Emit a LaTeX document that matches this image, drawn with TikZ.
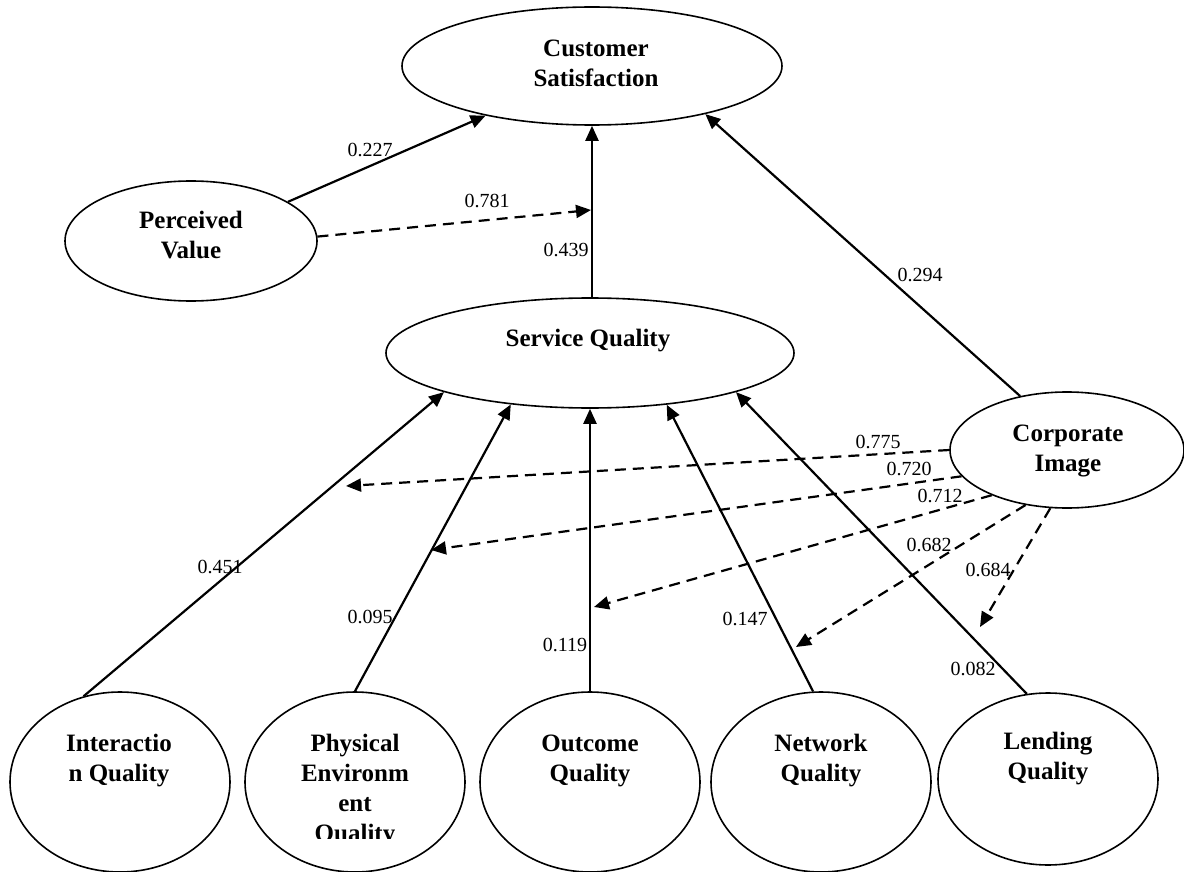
\documentclass[tikz,border=0pt]{standalone}
\usepackage{fontspec}
\setmainfont{Liberation Serif}
\usetikzlibrary{shapes.geometric,arrows.meta}
\tikzset{
  ell/.style={draw, line width=1.6pt, ellipse, inner sep=0pt},
  ttl/.style={font=\fontsize{25}{30}\selectfont\bfseries, align=center, inner sep=0pt},
  num/.style={font=\fontsize{20}{24}\selectfont, inner sep=0pt},
  conn/.style={line width=2.2pt, -{Triangle[length=15pt,width=13pt]}},
  dconn/.style={conn, dash pattern=on 11pt off 7pt},
}
\begin{document}
\begin{tikzpicture}[x=1pt,y=-1pt]
\useasboundingbox (0,0) rectangle (1184,872);
% ellipses
\node[ell, minimum width=380pt, minimum height=118pt] (cs) at (592,66) {};
\node[ell, minimum width=252pt, minimum height=120pt] (pv) at (191,241) {};
\node[ell, minimum width=408pt, minimum height=110pt] (sq) at (590,353) {};
\node[ell, minimum width=234pt, minimum height=116pt] (ci) at (1067,450) {};
\node[ell, minimum width=220pt, minimum height=180pt] (iq) at (120,782) {};
\node[ell, minimum width=220pt, minimum height=180pt] (pe) at (355,782) {};
\node[ell, minimum width=220pt, minimum height=180pt] (oq) at (590,782) {};
\node[ell, minimum width=220pt, minimum height=180pt] (nq) at (821,782) {};
\node[ell, minimum width=220pt, minimum height=172pt] (lq) at (1048,779) {};
% texts
\node[ttl] (cst) at (596,63.5) {Customer\\Satisfaction};
\node[ttl] (pvt) at (191,235.5) {Perceived\\Value};
\node[ttl] (sqt) at (588,341) {Service Quality};
\node[ttl] (cit) at (1068,451) {Corporate\\Image};
\node[ttl] (iqt) at (119,761) {Interactio\\n Quality};
\begin{scope}
\clip (245,690) rectangle (465,838);
\node[ttl] (pet) at (355,791) {Physical\\Environm\\ent\\Quality};
\end{scope}
\node[ttl] (oqt) at (590,761) {Outcome\\Quality};
\node[ttl] (nqt) at (821,761) {Network\\Quality};
\node[ttl] (lqt) at (1048,759) {Lending\\Quality};
% dashed tips
\coordinate (d0) at (591,210);
\coordinate (d1) at (346,486);
\coordinate (d2) at (431,550);
\coordinate (d3) at (594,607);
\coordinate (d4) at (796,647);
\coordinate (d5) at (980,627);
% solid connectors
\draw[conn] (pv.22) -- (cs.205.7);
\draw[conn] (sq.north -| cs.south) -- (cs.south);
\draw[conn] (ci.131) -- (cs.337);
\draw[conn] (iq.113) -- (sq.195.6);
\draw[conn] (pe.90) -- (sq.213.5);
\draw[conn] (oq.north) -- (sq.south);
\draw[conn] (nq.95) -- (sq.326);
\draw[conn] (lq.104) -- (sq.345.4);
% dashed connectors
\draw[dconn] (pv.2) -- (d0);
\draw[dconn] (ci.180) -- (d1);
\draw[dconn] (ci.194.4) -- (d2);
\draw[dconn] (ci.211.6) -- (d3);
\draw[dconn] (ci.233) -- (d4);
\draw[dconn] (ci.254.6) -- (d5);
% labels
\node[num] at (370,150) {0.227};
\node[num] at (487,201) {0.781};
\node[num] at (566,250) {0.439};
\node[num] at (920,275) {0.294};
\node[num] at (220,567) {0.451};
\node[num] at (370,617) {0.095};
\node[num] at (565,645) {0.119};
\node[num] at (745,619) {0.147};
\node[num] at (973,669) {0.082};
\node[num] at (878,442) {0.775};
\node[num] at (909,469) {0.720};
\node[num] at (940,496) {0.712};
\node[num] at (929,545) {0.682};
\node[num] at (988,570) {0.684};
\end{tikzpicture}
\end{document}
